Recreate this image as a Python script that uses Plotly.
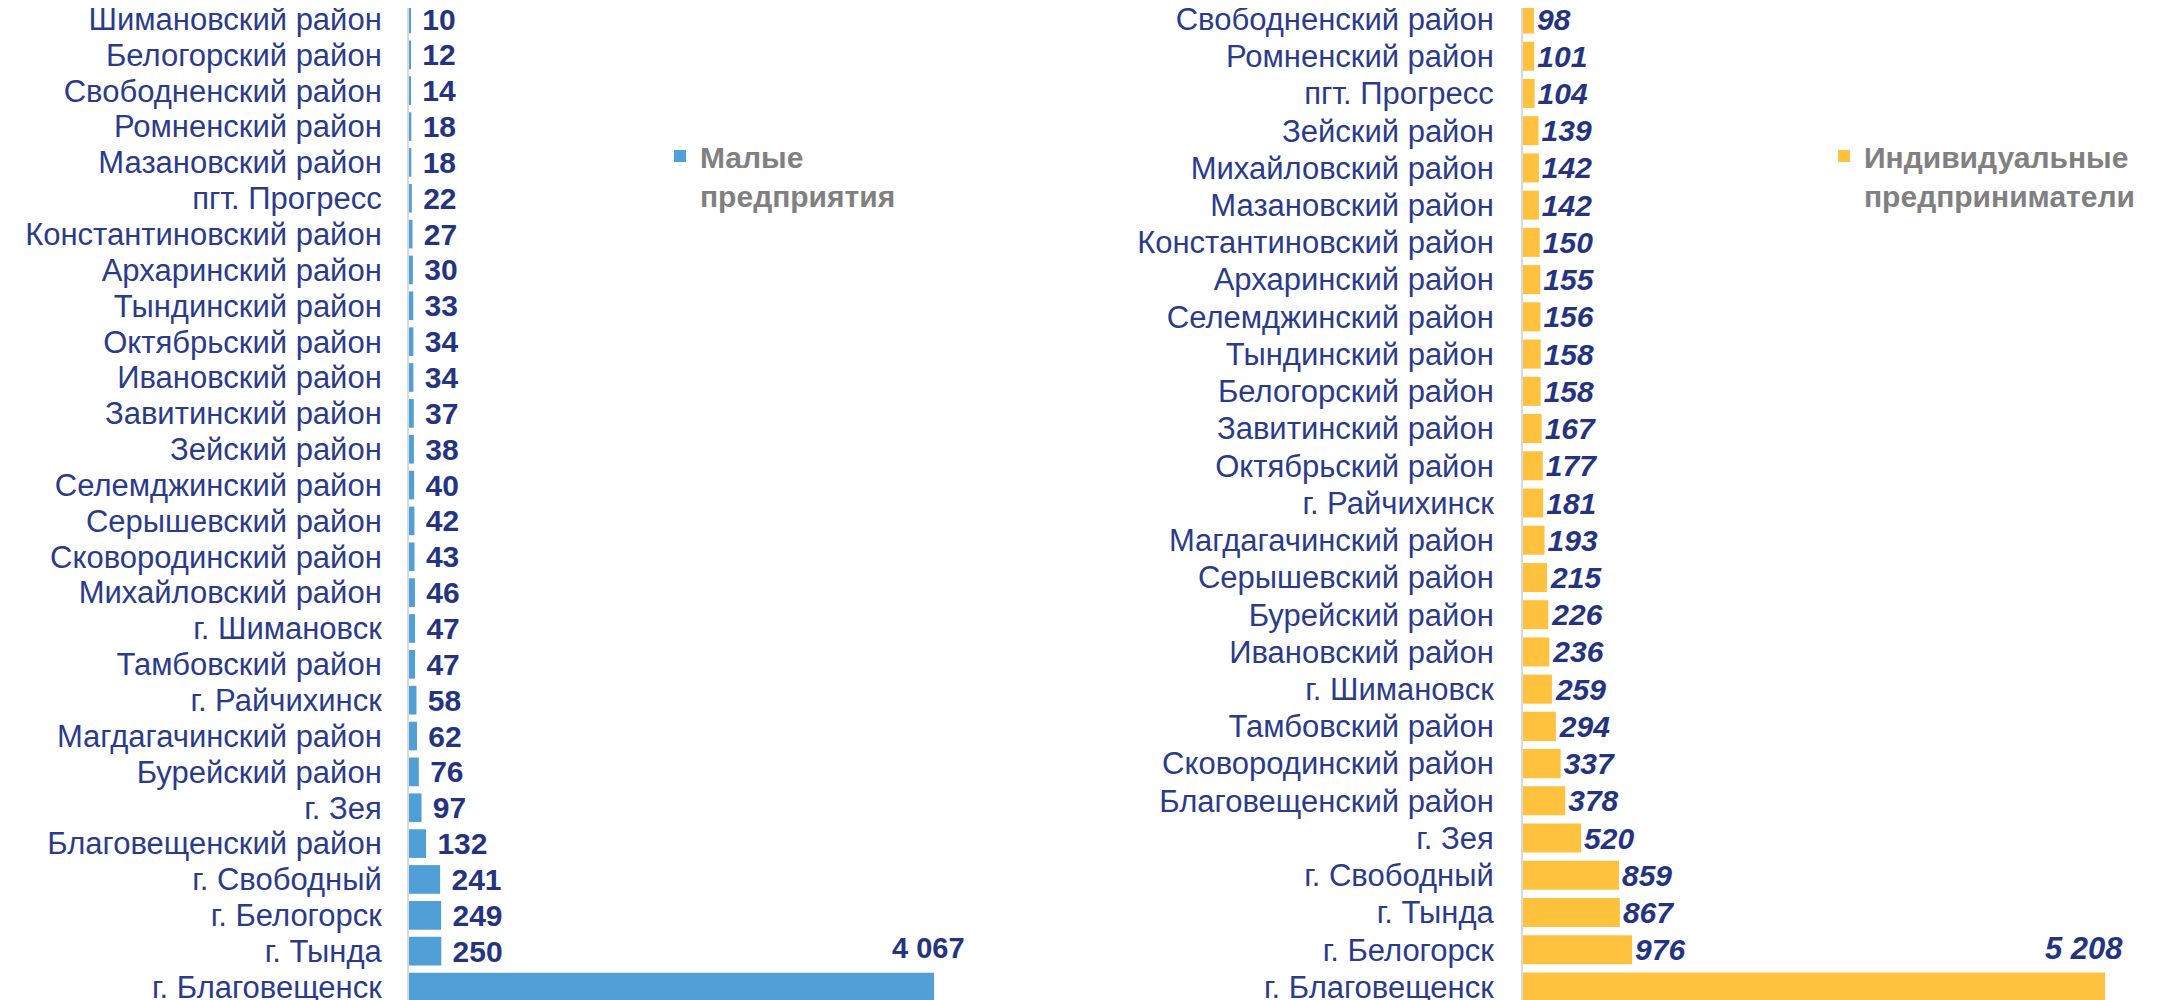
import plotly.graph_objects as go

# ---- data (top-to-bottom as shown in the chart) ----
small_categories = [
    "Шимановский район", "Белогорский район", "Свободненский район", "Ромненский район",
    "Мазановский район", "пгт. Прогресс", "Константиновский район", "Архаринский район",
    "Тындинский район", "Октябрьский район", "Ивановский район", "Завитинский район",
    "Зейский район", "Селемджинский район", "Серышевский район", "Сковородинский район",
    "Михайловский район", "г. Шимановск", "Тамбовский район", "г. Райчихинск",
    "Магдагачинский район", "Бурейский район", "г. Зея", "Благовещенский район",
    "г. Свободный", "г. Белогорск", "г. Тында", "г. Благовещенск",
]
small_values = [10, 12, 14, 18, 18, 22, 27, 30, 33, 34, 34, 37, 38, 40, 42, 43, 46, 47,
                47, 58, 62, 76, 97, 132, 241, 249, 250, 4067]

ip_categories = [
    "Свободненский район", "Ромненский район", "пгт. Прогресс", "Зейский район",
    "Михайловский район", "Мазановский район", "Константиновский район", "Архаринский район",
    "Селемджинский район", "Тындинский район", "Белогорский район", "Завитинский район",
    "Октябрьский район", "г. Райчихинск", "Магдагачинский район", "Серышевский район",
    "Бурейский район", "Ивановский район", "г. Шимановск", "Тамбовский район",
    "Сковородинский район", "Благовещенский район", "г. Зея", "г. Свободный",
    "г. Тында", "г. Белогорск", "г. Благовещенск",
]
ip_values = [98, 101, 104, 139, 142, 142, 150, 155, 156, 158, 158, 167, 177, 181, 193,
             215, 226, 236, 259, 294, 337, 378, 520, 859, 867, 976, 5208]

series_names = ["Малые<br>предприятия", "Индивидуальные<br>предприниматели"]

# ---- styles ----
W, H = 2169, 992   # page has an 8px body margin
FONT = "Liberation Sans"
BLUE = "#519FD7"
YELLOW = "#FFC23F"
NAVY = "#2B3B8C"
VALNAVY = "#253480"
GREY = "#808080"
AXIS = "#D9D9D9"
TICK_SIZE = 31
VAL_SIZE = 30
NBSP = "\u00a0"


def fmt(v):
    return f"{v:,}".replace(",", " ")


fig = go.Figure()

ys = small_categories[::-1]
xs = small_values[::-1]
pos_left = ["none" if v == max(small_values) else "outside" for v in xs]
fig.add_trace(go.Bar(
    x=xs, y=ys, orientation="h", name=series_names[0],
    marker=dict(color=BLUE, line=dict(width=0)),
    width=0.8,
    texttemplate=NBSP + "%{x:,}", textposition=pos_left,
    textfont=dict(family=FONT, size=VAL_SIZE, color=VALNAVY, weight="bold"),
    constraintext="none", cliponaxis=False,
    xaxis="x", yaxis="y", legend="legend",
))

ys2 = ip_categories[::-1]
xs2 = ip_values[::-1]
pos_right = ["none" if v == max(ip_values) else "outside" for v in xs2]
fig.add_trace(go.Bar(
    x=xs2, y=ys2, orientation="h", name=series_names[1],
    marker=dict(color=YELLOW, line=dict(width=0)),
    width=0.78,
    texttemplate="%{x:,}", textposition=pos_right,
    textfont=dict(family=FONT, size=VAL_SIZE, color=VALNAVY, weight="bold", style="italic"),
    constraintext="none", cliponaxis=False,
    xaxis="x2", yaxis="y2", legend="legend2",
))

m1 = max(small_values)
fig.add_annotation(x=m1, y=small_categories[small_values.index(m1)], xref="x", yref="y",
                   text=fmt(m1), showarrow=False, xanchor="right", yanchor="middle",
                   xshift=33, yshift=39,
                   font=dict(family=FONT, size=29, color=VALNAVY, weight="bold"))
m2 = max(ip_values)
fig.add_annotation(x=m2, y=ip_categories[ip_values.index(m2)], xref="x2", yref="y2",
                   text=fmt(m2), showarrow=False, xanchor="right", yanchor="middle",
                   xshift=20, yshift=39,
                   font=dict(family=FONT, size=31, color=VALNAVY, weight="bold", style="italic"))

# axis geometry in figure pixels
L_AX, L_END, L_MAXPX = 401, 992, 926
R_AX, R_END, R_MAXPX = 1515, W, 2097
TOP_C, BOT_C = 11, 979

n1, n2 = len(small_categories), len(ip_categories)
sp1 = (BOT_C - TOP_C) / (n1 - 1)
sp2 = (BOT_C - TOP_C) / (n2 - 1)

tickfont = dict(family=FONT, size=TICK_SIZE, color=NAVY)
legfont = dict(family=FONT, size=30, color=GREY, weight="bold")

fig.update_layout(
    width=W, height=H,
    margin=dict(l=0, r=0, t=0, b=0),
    paper_bgcolor="white", plot_bgcolor="white",
    separators=", ",
    bargap=0.2,
    xaxis=dict(domain=[L_AX / W, L_END / W],
               range=[0, m1 * (L_END - L_AX) / (L_MAXPX - L_AX)],
               visible=False, fixedrange=True),
    yaxis=dict(anchor="x", type="category",
               categoryorder="array", categoryarray=ys,
               tickmode="array", tickvals=ys, ticktext=ys,
               range=[-(H - BOT_C) / sp1, (n1 - 1) + TOP_C / sp1],
               showline=True, linecolor=AXIS, linewidth=2, showgrid=False,
               ticks="", tickfont=tickfont, ticklabelstandoff=19, automargin=False),
    xaxis2=dict(domain=[R_AX / W, R_END / W],
                range=[0, m2 * (R_END - R_AX) / (R_MAXPX - R_AX)],
                visible=False, fixedrange=True),
    yaxis2=dict(anchor="x2", type="category",
                categoryorder="array", categoryarray=ys2,
                tickmode="array", tickvals=ys2, ticktext=ys2,
                range=[-(H - BOT_C) / sp2, (n2 - 1) + TOP_C / sp2],
                showline=True, linecolor=AXIS, linewidth=2, showgrid=False,
                ticks="", tickfont=tickfont, ticklabelstandoff=21, automargin=False),
    legend=dict(x=652 / W, y=1 - 122 / H, xanchor="left", yanchor="top",
                bgcolor="rgba(0,0,0,0)", valign="top", font=legfont),
    legend2=dict(x=1816 / W, y=1 - 122 / H, xanchor="left", yanchor="top",
                 bgcolor="rgba(0,0,0,0)", valign="top", font=legfont),
    showlegend=True,
)

fig.write_html("out.html")
